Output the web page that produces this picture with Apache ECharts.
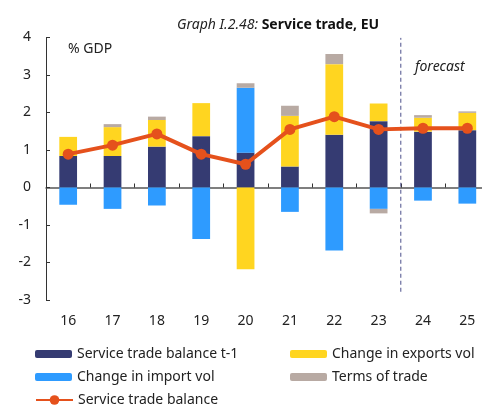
<!DOCTYPE html>
<html>
<head>
<meta charset="utf-8">
<script src="https://cdn.jsdelivr.net/npm/echarts@6/dist/echarts.min.js"></script>
<style>
  html, body { margin: 0; padding: 0; background: #ffffff; }
  #chart { width: 482px; height: 408px; }
</style>
</head>
<body>
<div id="chart"></div>
<script>
// Service trade, EU (% of GDP), contributions and balance
const years = ['16', '17', '18', '19', '20', '21', '22', '23', '24', '25'];
const balancePrev = [0.84, 0.84, 1.09, 1.37, 0.93, 0.56, 1.41, 1.77, 1.49, 1.53];
const exportsVol = [0.51, 0.77, 0.71, 0.88, -2.18, 1.35, 1.88, 0.47, 0.37, 0.46];
const importVol = [-0.46, -0.57, -0.48, -1.37, 1.73, -0.65, -1.68, -0.57, -0.35, -0.43];
const termsOfTrade = [0, 0.08, 0.09, 0, 0.12, 0.27, 0.27, -0.12, 0.07, 0.04];
const balance = [0.89, 1.13, 1.43, 0.89, 0.62, 1.55, 1.89, 1.55, 1.58, 1.58];
const yTicks = { min: -3, max: 4, step: 1 };
// forecast starts after the 8th category (2023)
const forecastStart = 8;
const forecastLine = [[forecastStart, -2.78], [forecastStart, 3.99]];

const FONT = 'Noto Sans';
const C = {
  navy: '#353b72', yellow: '#ffd520', blue: '#2e9bff', grey: '#b8aaa3', orange: '#e5511c'
};

const names = {
  prev: 'Service trade balance t-1',
  exp: 'Change in exports vol',
  imp: 'Change in import vol',
  tot: 'Terms of trade',
  bal: 'Service trade balance'
};

function barSeries(name, data, color) {
  return {
    name, type: 'bar', stack: 'st', data,
    barWidth: '40%',
    itemStyle: { color },
    emphasis: { disabled: true }
  };
}

function legendAt(name, left, top, isLine) {
  return {
    data: [name], left, top, padding: 0,
    itemWidth: 37, itemHeight: isLine ? 12 : 8,
    textStyle: { fontFamily: FONT, fontSize: 14, color: '#222' },
    selectedMode: false
  };
}

const chart = echarts.init(document.getElementById('chart'), null, { renderer: 'canvas' });
chart.setOption({
  animation: false,
  backgroundColor: '#ffffff',
  title: {
    text: '{i|Graph I.2.48: }{b|Service trade, EU}',
    left: 172, top: 13,
    textStyle: {
      rich: {
        i: { fontFamily: FONT, fontStyle: 'italic', fontWeight: 'normal', fontSize: 14, color: '#222' },
        b: { fontFamily: FONT, fontWeight: 'bold', fontSize: 14, color: '#111' }
      }
    }
  },
  // the plot area runs slightly past the right edge of the canvas
  grid: { left: 46, top: 37.5, width: 443.5, height: 262.5, containLabel: false, outerBoundsMode: 'none' },
  legend: [
    legendAt(names.prev, 35, 347),
    legendAt(names.exp, 290, 347),
    legendAt(names.imp, 35, 370),
    legendAt(names.tot, 290, 370),
    legendAt(names.bal, 35, 393, true)
  ],
  xAxis: [
    {
      type: 'category', data: years, position: 'bottom',
      axisLine: { onZero: true, lineStyle: { color: '#555', width: 1.5 } },
      axisTick: { show: true, inside: true, length: 4, lineStyle: { color: '#333' } },
      axisLabel: { show: false },
      splitLine: { show: false }
    },
    {
      type: 'category', data: years, position: 'bottom',
      axisLine: { show: false, onZero: false },
      axisTick: { show: false },
      axisLabel: { fontFamily: FONT, fontSize: 14, color: '#222', margin: 14 },
      splitLine: { show: false }
    },
    {
      type: 'value', min: 0, max: years.length, show: false
    }
  ],
  yAxis: {
    type: 'value', min: yTicks.min, max: yTicks.max, interval: yTicks.step,
    axisLine: { show: true, onZero: false, lineStyle: { color: '#333', width: 1 } },
    axisTick: { show: true, inside: true, length: 4, lineStyle: { color: '#333' } },
    axisLabel: { fontFamily: FONT, fontSize: 14, color: '#222', margin: 15 },
    splitLine: { show: false }
  },
  graphic: [
    { type: 'text', left: 68, top: 42, style: { text: '% GDP', font: '14px "Noto Sans"', fill: '#222' } },
    { type: 'text', left: 415, top: 60, style: { text: 'forecast', font: 'italic 14px "Noto Sans"', fill: '#222' } }
  ],
  series: [
    barSeries(names.prev, balancePrev, C.navy),
    barSeries(names.exp, exportsVol, C.yellow),
    barSeries(names.imp, importVol, C.blue),
    barSeries(names.tot, termsOfTrade, C.grey),
    {
      name: names.bal, type: 'line', data: balance,
      symbol: 'circle', symbolSize: 11,
      lineStyle: { color: C.orange, width: 4 },
      itemStyle: { color: C.orange },
      emphasis: { disabled: true },
      z: 5
    },
    {
      name: 'forecast-divider', type: 'line', xAxisIndex: 2, data: forecastLine,
      symbol: 'none', silent: true,
      lineStyle: { color: '#4a4f8a', width: 1, type: [4, 3] },
      z: 1
    }
  ]
});
</script>
</body>
</html>
